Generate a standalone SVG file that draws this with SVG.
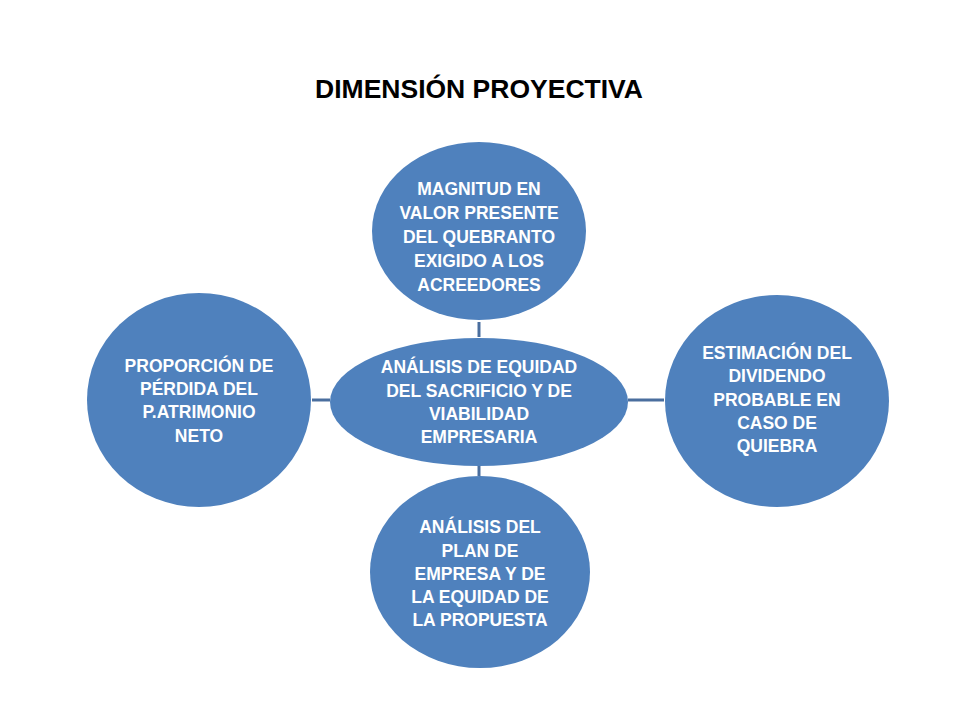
<svg xmlns="http://www.w3.org/2000/svg" width="960" height="720" viewBox="0 0 960 720">
<style>
.node{fill:#4F81BD;}
.lbl{font-family:"Liberation Sans",Arial,sans-serif;font-weight:bold;font-size:17.5px;fill:#ffffff;text-anchor:middle;}
.title{font-family:"Liberation Sans",Arial,sans-serif;font-weight:bold;font-size:26.5px;fill:#000000;text-anchor:middle;}
.conn{stroke:#4A6E9E;stroke-width:3;fill:none;}
</style>
<rect width="960" height="720" fill="#ffffff"/>
<text class="title" x="479" y="98">DIMENSIÓN PROYECTIVA</text>
<g id="connectors">
<line class="conn" x1="479" y1="322" x2="479" y2="337"/>
<line class="conn" x1="479" y1="466" x2="479" y2="476"/>
<line class="conn" x1="312" y1="400" x2="330" y2="400"/>
<line class="conn" x1="628" y1="400" x2="664" y2="400"/>
</g>
<g id="top">
<ellipse class="node" cx="479" cy="231" rx="107" ry="89"/>
<text class="lbl" x="479"><tspan x="479" y="195">MAGNITUD EN</tspan><tspan x="479" y="219">VALOR PRESENTE</tspan><tspan x="479" y="243">DEL QUEBRANTO</tspan><tspan x="479" y="267">EXIGIDO A LOS</tspan><tspan x="479" y="291">ACREEDORES</tspan></text>
</g>
<g id="left">
<ellipse class="node" cx="199" cy="400" rx="112" ry="107"/>
<text class="lbl"><tspan x="199" y="372">PROPORCIÓN DE</tspan><tspan x="199" y="395">PÉRDIDA DEL</tspan><tspan x="199" y="418">P.ATRIMONIO</tspan><tspan x="199" y="442">NETO</tspan></text>
</g>
<g id="right">
<ellipse class="node" cx="777" cy="401" rx="112" ry="106"/>
<text class="lbl"><tspan x="777" y="359">ESTIMACIÓN DEL</tspan><tspan x="777" y="382">DIVIDENDO</tspan><tspan x="777" y="406">PROBABLE EN</tspan><tspan x="777" y="429">CASO DE</tspan><tspan x="777" y="452">QUIEBRA</tspan></text>
</g>
<g id="bottom">
<ellipse class="node" cx="480" cy="572" rx="110" ry="96"/>
<text class="lbl"><tspan x="480" y="533">ANÁLISIS DEL</tspan><tspan x="480" y="557">PLAN DE</tspan><tspan x="480" y="580">EMPRESA Y DE</tspan><tspan x="480" y="603">LA EQUIDAD DE</tspan><tspan x="480" y="626">LA PROPUESTA</tspan></text>
</g>
<g id="center">
<ellipse class="node" cx="479" cy="402" rx="149" ry="64"/>
<text class="lbl"><tspan x="479" y="373">ANÁLISIS DE EQUIDAD</tspan><tspan x="479" y="397">DEL SACRIFICIO Y DE</tspan><tspan x="479" y="420">VIABILIDAD</tspan><tspan x="479" y="443">EMPRESARIA</tspan></text>
</g>
</svg>
